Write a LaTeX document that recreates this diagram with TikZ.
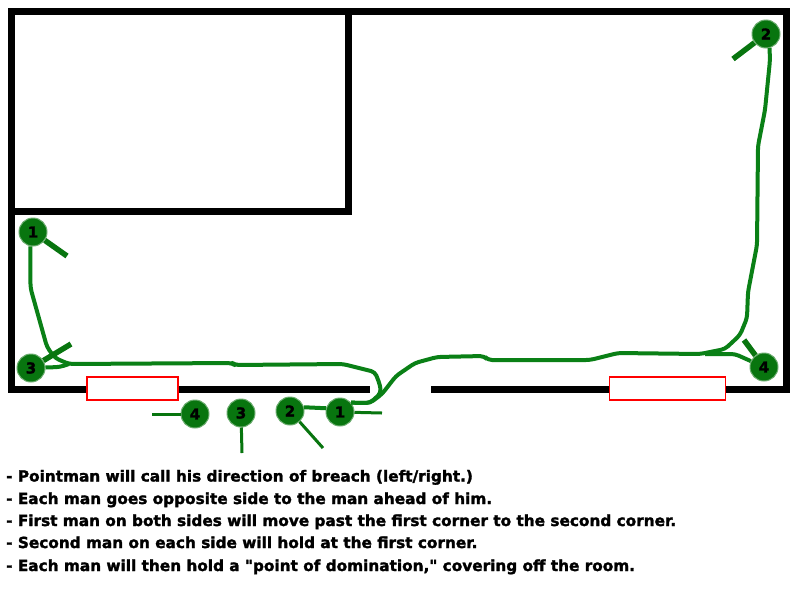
\documentclass[tikz,border=0pt]{standalone}
\usepackage{fontspec}
\setmainfont{DejaVu Sans}[Ligatures=TeXOff, BoldFeatures={FakeBold=1.8}]
\definecolor{mangreen}{HTML}{08750F}
\definecolor{trailgreen}{HTML}{0A8016}
\tikzset{
  wall/.style={line width=7pt, line cap=rect},
  window/.style={draw=red, fill=white, line width=1.6pt},
  man/.style={circle, fill=mangreen, draw=mangreen!60, line width=1pt, minimum size=28pt, inner sep=0pt, font=\bfseries\fontsize{15}{15}\selectfont},
  trail/.style={draw=trailgreen, line width=4pt, line join=round, rounded corners=4pt},
  aim/.style={draw=mangreen, line width=5.5pt},
  aimthin/.style={draw=mangreen, line width=3pt},
  note/.style={anchor=base west, inner sep=0pt, font=\bfseries\fontsize{15.3}{16}\selectfont}
}
\begin{document}
\begin{tikzpicture}[x=1pt, y=-1pt]
  \useasboundingbox[fill=white] (0,0) rectangle (800,600);

  % Walls
  \draw[wall] (366.5,389.5) -- (11.5,389.5) -- (11.5,11.5) -- (786.5,11.5) -- (786.5,389.5) -- (434.5,389.5);
  \draw[wall] (348.5,11.5) -- (348.5,211.5) -- (11.5,211.5);

  % Windows
  \node[window, minimum width=91pt, minimum height=23pt, inner sep=0pt] (winleft) at (132.5,388.5) {};
  \node[window, minimum width=116pt, minimum height=23pt, inner sep=0pt] (winright) at (667.5,388.5) {};

  % Men inside the room
  \node[man] (inone) at (33,232) {1};
  \node[man] (inthree) at (31,368) {3};
  \node[man] (intwo) at (766,34) {2};
  \node[man] (infour) at (764,367) {4};

  % Men at the door
  \node[man] (outfour) at (195,414) {4};
  \node[man] (outthree) at (241,413) {3};
  \node[man] (outtwo) at (290,411) {2};
  \node[man] (outone) at (340,412) {1};

  % Trails
  \draw[trail] (inone.260) -- (30.5,288) -- (47,347) -- (55,358) -- (69,364) -- (232,363) -- (235,365) -- (343,364) -- (375,372) -- (380,385) -- (381,393) -- (370,403) -- (outone.40);
  \draw[trail] (inthree) -- (60,367) -- (69,364);
  \draw[trail] (outtwo.15) -- (outone.165);
  \draw[trail] (outone.40) -- (370,403) -- (382,394) -- (396,376) -- (415,363) -- (437,357) -- (484,356) -- (488,360) -- (590,360) -- (618,353) -- (700,354) -- (725,349) -- (740,335) -- (747,318) -- (748,292) -- (757,245) -- (758,146) -- (765,110) -- (770,60) -- (intwo.284);
  \draw[trail] (705,354) -- (735,354) -- (infour);

  % Lines of sight
  \coordinate (aimone) at (67,256);
  \coordinate (aimthree) at (71,344);
  \coordinate (aimtwo) at (733,59);
  \coordinate (aimfour) at (744,340);
  \draw[aim] (inone) -- (aimone);
  \draw[aim] (inthree) -- (aimthree);
  \draw[aim] (intwo) -- (aimtwo);
  \draw[aim] (infour) -- (aimfour);
  \coordinate (coverfour) at (152,414);
  \coordinate (coverthree) at (242,453);
  \coordinate (covertwo) at (323,448);
  \coordinate (coverone) at (382,413);
  \draw[aimthin] (outfour) -- (coverfour);
  \draw[aimthin] (outthree) -- (coverthree);
  \draw[aimthin] (outtwo) -- (covertwo);
  \draw[aimthin] (outone) -- (coverone);

  % Notes
  \node[note] (noteone) at (6,481.5) {- Pointman will call his direction of breach (left/right.)};
  \node[note] (notetwo) at (6,504) {- Each man goes opposite side to the man ahead of him.};
  \node[note] (notethree) at (6,526) {- First man on both sides will move past the first corner to the second corner.};
  \node[note] (notefour) at (6,548) {- Second man on each side will hold at the first corner.};
  \node[note] (notefive) at (6,571) {- Each man will then hold a "point of domination," covering off the room.};
\end{tikzpicture}
\end{document}
